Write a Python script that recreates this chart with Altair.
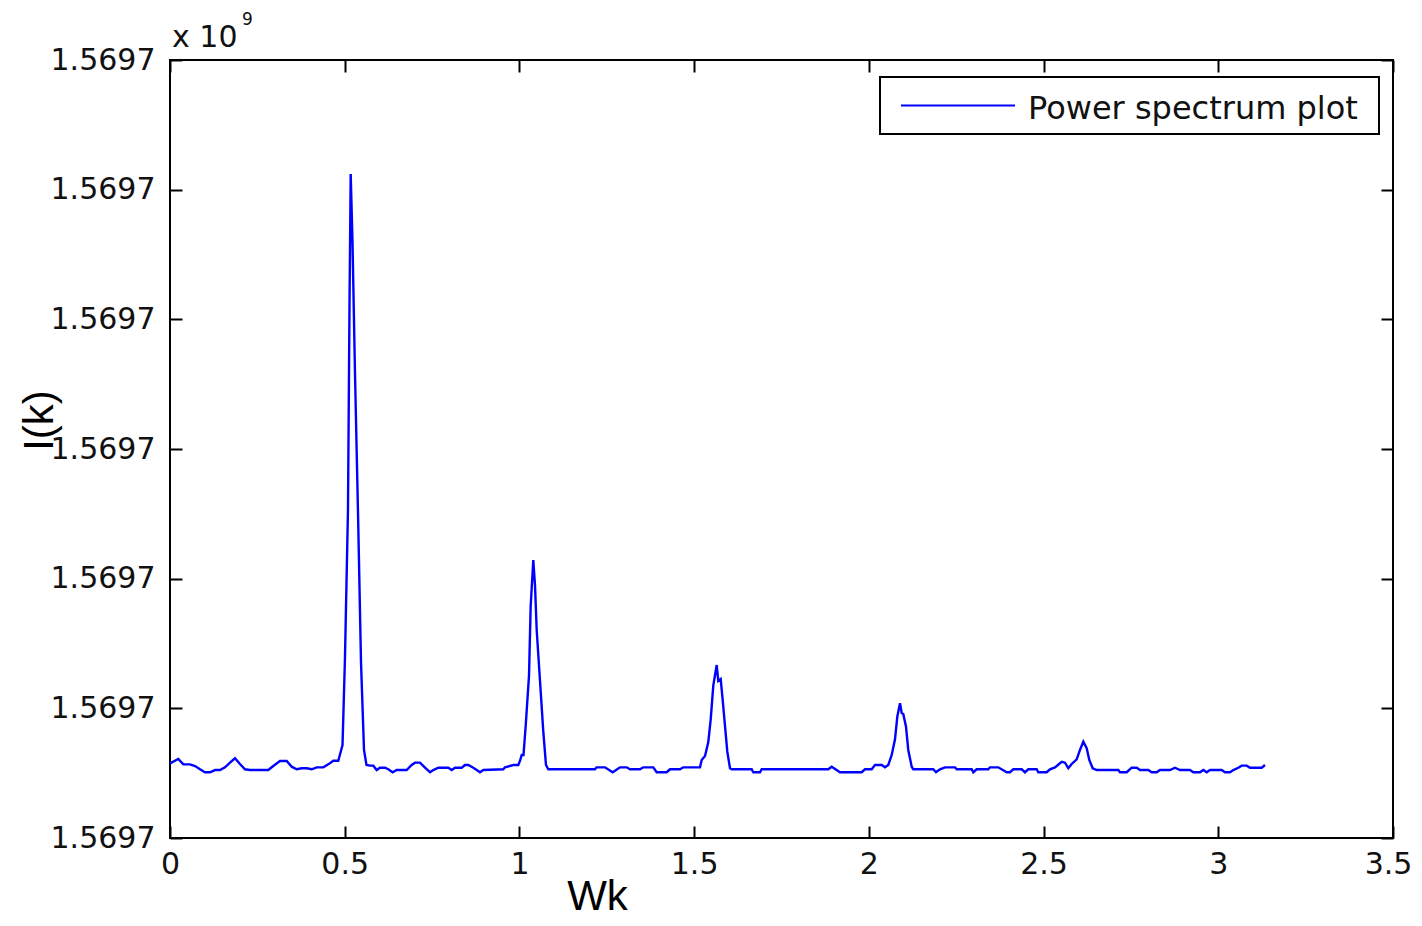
import altair as alt
import pandas as pd

# ---- data ----
wk = [0.0, 0.0238, 0.0381, 0.0572, 0.0716, 0.0859, 0.1002, 0.1145, 0.1288, 0.1431,
      0.1574, 0.1717, 0.1860, 0.2003, 0.2146, 0.2289, 0.2813, 0.2956, 0.3148, 0.3340,
      0.3483, 0.3626, 0.3769, 0.3912, 0.4055, 0.4198, 0.4387, 0.4530, 0.4673, 0.4816,
      0.4937, 0.5008, 0.5094, 0.5137, 0.5171, 0.5223, 0.5294, 0.5380, 0.5466, 0.5552,
      0.5623, 0.5724, 0.5818, 0.5915, 0.6010, 0.6153, 0.6247, 0.6373, 0.6488, 0.6774,
      0.6917, 0.7011, 0.7154, 0.7298, 0.7441, 0.7535, 0.7678, 0.7964, 0.8062, 0.8156,
      0.8348, 0.8442, 0.8537, 0.8680, 0.8777, 0.8872, 0.8966, 0.9538, 0.9587, 0.9825,
      0.9968, 1.0017, 1.0065, 1.0116, 1.0179, 1.0274, 1.0322, 1.0397, 1.0446, 1.0494,
      1.0589, 1.0683, 1.0760, 1.0826, 1.2163, 1.2206, 1.2449, 1.2669, 1.2878, 1.3070,
      1.3164, 1.3450, 1.3545, 1.3831, 1.3928, 1.4214, 1.4309, 1.4595, 1.4690, 1.5168,
      1.5216, 1.5311, 1.5405, 1.5474, 1.5548, 1.5645, 1.5691, 1.5760, 1.5817, 1.5883,
      1.5949, 1.6026, 1.6075, 1.6647, 1.6693, 1.6885, 1.6933, 1.8839, 1.8937, 1.9174,
      1.9795, 1.9890, 2.0081, 2.0176, 2.0367, 2.0462, 2.0556, 2.0654, 2.0748, 2.0814,
      2.0891, 2.0940, 2.0985, 2.1063, 2.1128, 2.1226, 2.1272, 2.1844, 2.1921, 2.2036,
      2.2179, 2.2465, 2.2514, 2.2943, 2.2989, 2.3086, 2.3418, 2.3467, 2.3704, 2.3945,
      2.4039, 2.4134, 2.4374, 2.4468, 2.4563, 2.4803, 2.4849, 2.5089, 2.5184, 2.5327,
      2.5519, 2.5613, 2.5708, 2.5805, 2.5948, 2.6042, 2.6137, 2.6234, 2.6308, 2.6406,
      2.6521, 2.7139, 2.7187, 2.7379, 2.7522, 2.7665, 2.7759, 2.7997, 2.8094, 2.8237,
      2.8332, 2.8618, 2.8761, 2.8904, 2.9190, 2.9285, 2.9477, 2.9571, 2.9668, 2.9763,
      3.0098, 3.0192, 3.0335, 3.0430, 3.0573, 3.0670, 3.0813, 3.0908, 3.1242, 3.1337]

ik = [0.576, 0.609, 0.568, 0.568, 0.555, 0.530, 0.507, 0.507, 0.524, 0.524,
      0.545, 0.581, 0.615, 0.571, 0.530, 0.524, 0.524, 0.555, 0.594, 0.594,
      0.550, 0.530, 0.538, 0.538, 0.530, 0.545, 0.545, 0.568, 0.596, 0.596,
      0.717, 1.396, 2.537, 4.110, 5.121, 4.596, 3.586, 2.514, 1.357, 0.679,
      0.563, 0.558, 0.558, 0.524, 0.542, 0.542, 0.530, 0.507, 0.524, 0.524,
      0.563, 0.581, 0.581, 0.542, 0.507, 0.524, 0.542, 0.542, 0.524, 0.542,
      0.542, 0.563, 0.563, 0.542, 0.524, 0.507, 0.524, 0.530, 0.545, 0.563,
      0.563, 0.596, 0.640, 0.640, 0.864, 1.252, 1.789, 2.144, 1.946, 1.604,
      1.211, 0.820, 0.563, 0.530, 0.530, 0.545, 0.545, 0.507, 0.545, 0.545,
      0.530, 0.530, 0.545, 0.545, 0.507, 0.507, 0.530, 0.530, 0.545, 0.545,
      0.602, 0.632, 0.740, 0.915, 1.175, 1.334, 1.211, 1.226, 1.064, 0.864,
      0.666, 0.538, 0.530, 0.530, 0.507, 0.507, 0.530, 0.530, 0.550, 0.507,
      0.507, 0.530, 0.530, 0.563, 0.563, 0.545, 0.563, 0.640, 0.761, 0.935,
      1.039, 0.964, 0.956, 0.858, 0.679, 0.550, 0.530, 0.530, 0.507, 0.530,
      0.545, 0.545, 0.530, 0.530, 0.507, 0.530, 0.530, 0.545, 0.545, 0.507,
      0.507, 0.530, 0.530, 0.507, 0.530, 0.530, 0.507, 0.507, 0.530, 0.545,
      0.588, 0.581, 0.538, 0.571, 0.607, 0.679, 0.743, 0.692, 0.602, 0.538,
      0.524, 0.524, 0.507, 0.507, 0.542, 0.542, 0.524, 0.524, 0.507, 0.507,
      0.524, 0.524, 0.542, 0.524, 0.524, 0.507, 0.507, 0.524, 0.507, 0.524,
      0.524, 0.507, 0.507, 0.524, 0.542, 0.558, 0.558, 0.542, 0.542, 0.563]

x_ticks = [0, 0.5, 1, 1.5, 2, 2.5, 3, 3.5]
y_ticks = [0, 1, 2, 3, 4, 5, 6]
y_tick_label = "1.5697"
legend_label = ["Power spectrum plot"]
exponent_base = ["x 10"]
exponent_power = ["9"]

df = pd.DataFrame({"Wk": wk, "Ik": ik})

W, H = 1223, 778
FONT = "DejaVu Sans"
TFONT = "Liberation Sans"
BLUE = "#0000ff"

xscale = alt.Scale(domain=[0, 3.5], nice=False, zero=False)
yscale = alt.Scale(domain=[0, 6], nice=False, zero=False)

common = dict(offset=-12, tickSize=12, tickWidth=2, tickColor="black",
              domain=False, grid=False, labelOverlap=False, labelFlush=False)

x_bottom = alt.Axis(orient="bottom", values=x_ticks, format="~g",
                    labelFont=FONT, labelFontSize=30, labelColor="#111111",
                    labelPadding=11,
                    labelOffset={"condition": {"test": "datum.value >= 3.5", "value": -5},
                                 "value": 0},
                    titleFont=TFONT, titleFontSize=42,
                    titleFontWeight="normal", titleColor="black",
                    titleX=427, titleY=83, titleAlign="center",
                    titleBaseline="alphabetic", **common)
y_left = alt.Axis(orient="left", values=y_ticks,
                  labelExpr="'" + y_tick_label + "'",
                  labelFont=FONT, labelFontSize=30, labelColor="#111111",
                  labelPadding=15, titleFont=TFONT, titleFontSize=42,
                  titleFontWeight="normal", titleColor="black",
                  titleAngle=270, titleX=-130, titleY=360, titleAlign="center",
                  titleBaseline="alphabetic", **common)
x_top = alt.Axis(orient="top", values=x_ticks, labels=False, **common)
y_right = alt.Axis(orient="right", values=y_ticks, labels=False, **common)

line = alt.Chart(df).mark_line(color=BLUE, strokeWidth=2.4).encode(
    x=alt.X("Wk:Q", scale=xscale, axis=x_bottom, title="Wk"),
    y=alt.Y("Ik:Q", scale=yscale, axis=y_left, title="I(k)"),
)
frame = alt.Chart(df).mark_line(opacity=0).encode(
    x=alt.X("Wk:Q", scale=xscale, axis=x_top, title=None),
    y=alt.Y("Ik:Q", scale=yscale, axis=y_right, title=None),
)

leg_df = pd.DataFrame({"label": legend_label})
leg_box = alt.Chart(leg_df).mark_rect(fill="white", stroke="black", strokeWidth=2).encode(
    x=alt.value(710), x2=alt.value(1209), y=alt.value(17), y2=alt.value(74))
leg_line = alt.Chart(leg_df).mark_rule(color=BLUE, strokeWidth=2).encode(
    x=alt.value(731), x2=alt.value(845), y=alt.value(45.5))
leg_text = alt.Chart(leg_df).mark_text(align="left", baseline="alphabetic", font=FONT,
                                       fontSize=32, color="#111111").encode(
    x=alt.value(858), y=alt.value(58.5), text="label:N")

exp_base = alt.Chart(pd.DataFrame({"t": exponent_base})).mark_text(
    align="left", baseline="alphabetic", font=FONT, fontSize=30, color="#111111").encode(
    x=alt.value(2), y=alt.value(-13), text="t:N")
exp_pow = alt.Chart(pd.DataFrame({"t": exponent_power})).mark_text(
    align="left", baseline="alphabetic", font=FONT, fontSize=17, color="#111111").encode(
    x=alt.value(72), y=alt.value(-35), text="t:N")

chart = alt.layer(line, frame, leg_box, leg_line, leg_text, exp_base, exp_pow).resolve_axis(
    x="independent", y="independent"
).properties(
    width=W, height=H,
    autosize=alt.AutoSizeParams(type="none"),
    padding={"left": 162, "top": 52, "right": 21, "bottom": 80},
).configure_view(stroke="black", strokeWidth=2)

chart.save("out.html", embed_options={"renderer": "svg", "actions": False})
